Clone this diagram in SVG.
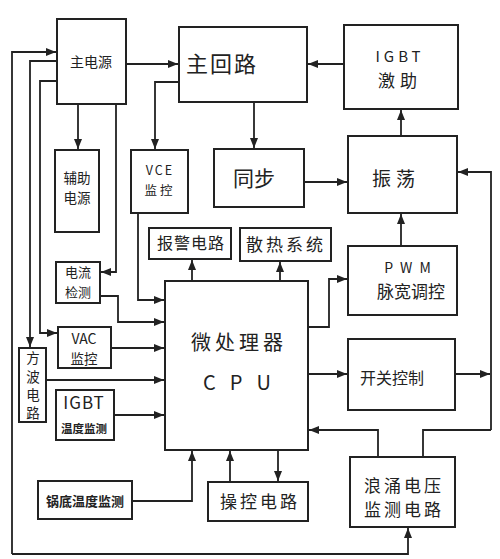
<svg xmlns="http://www.w3.org/2000/svg" width="500" height="559" viewBox="0 0 500 559">
<style>
.b{fill:#fff;stroke:#222;stroke-width:2}
.c{fill:none;stroke:#222;stroke-width:1.8}
text{font-family:"Noto Sans CJK SC","Liberation Sans",sans-serif;fill:#222;text-anchor:middle}
</style>
<defs>
<marker id="a" viewBox="0 0 10 10" refX="10" refY="5" markerWidth="10" markerHeight="10" markerUnits="userSpaceOnUse" orient="auto"><path d="M0,1 L10,5 L0,9 z" fill="#222"/></marker>
</defs>
<rect width="500" height="559" fill="#fff"/>
<g id="connectors">
<path class="c" d="M12,554 V52 H56" marker-end="url(#a)"/>
<path class="c" d="M12,554 H408 V528" marker-end="url(#a)"/>
<path class="c" d="M57,61 H30 V347" marker-end="url(#a)"/>
<path class="c" d="M57,81 H40 V333 H57" marker-end="url(#a)"/>
<path class="c" d="M78,104 V149" marker-end="url(#a)"/>
<path class="c" d="M116,104 V272 H101" marker-end="url(#a)"/>
<path class="c" d="M126,64 H178" marker-end="url(#a)"/>
<path class="c" d="M179,82 H155 V149" marker-end="url(#a)"/>
<path class="c" d="M254,102 V148" marker-end="url(#a)"/>
<path class="c" d="M344,64 H308" marker-end="url(#a)"/>
<path class="c" d="M304,182 H347" marker-end="url(#a)"/>
<path class="c" d="M401,136 V110" marker-end="url(#a)"/>
<path class="c" d="M401,246 V214" marker-end="url(#a)"/>
<path class="c" d="M491,430 V172 H458" marker-end="url(#a)"/>
<path class="c" d="M423,457 V430 H491"/>
<path class="c" d="M455,374 H490" marker-end="url(#a)"/>
<path class="c" d="M378,457 V430 H309" marker-end="url(#a)"/>
<path class="c" d="M309,327 H329 V279 H347" marker-end="url(#a)"/>
<path class="c" d="M309,374 H347" marker-end="url(#a)"/>
<path class="c" d="M192,281 V260" marker-end="url(#a)"/>
<path class="c" d="M280,281 V262" marker-end="url(#a)"/>
<path class="c" d="M138,213 V300 H164" marker-end="url(#a)"/>
<path class="c" d="M100,296 H118 V322 H164" marker-end="url(#a)"/>
<path class="c" d="M111,348 H164" marker-end="url(#a)"/>
<path class="c" d="M46,380 H164" marker-end="url(#a)"/>
<path class="c" d="M114,415 H164" marker-end="url(#a)"/>
<path class="c" d="M278,450 V481" marker-end="url(#a)"/>
<path class="c" d="M230,482 V451" marker-end="url(#a)"/>
<path class="c" d="M132,501 H192 V451" marker-end="url(#a)"/>
</g>
<g id="main-power"><rect class="b" x="57" y="19" width="69" height="85"/><text x="91" y="67" font-size="14">主电源</text></g>
<g id="main-loop"><rect class="b" x="179" y="27" width="128" height="75"/><text x="222" y="72" font-size="22" letter-spacing="2">主回路</text></g>
<g id="igbt-drive"><rect class="b" x="344" y="25" width="114" height="84"/><text x="400" y="62" font-size="15" letter-spacing="4" font-family="Liberation Sans">IGBT</text><text x="400" y="87" font-size="17" letter-spacing="5">激助</text></g>
<g id="aux-power"><rect class="b" x="55" y="150" width="44" height="82"/><text x="77" y="183" font-size="13.5">辅助</text><text x="77" y="203" font-size="13.5">电源</text></g>
<g id="vce"><rect class="b" x="131" y="150" width="57" height="63"/><text x="160" y="175" font-size="12.5" letter-spacing="2" font-family="Liberation Sans">VCE</text><text x="160" y="195" font-size="12.5" letter-spacing="3">监控</text></g>
<g id="sync"><rect class="b" x="214" y="149" width="90" height="58"/><text x="254" y="186" font-size="21">同步</text></g>
<g id="osc"><rect class="b" x="348" y="136" width="109" height="77"/><text x="396" y="186" font-size="19" letter-spacing="5">振荡</text></g>
<g id="alarm"><rect class="b" x="149" y="228" width="82" height="31"/><text x="191" y="249" font-size="16" letter-spacing="1">报警电路</text></g>
<g id="cooling"><rect class="b" x="240" y="228" width="91" height="33"/><text x="286" y="251" font-size="17" letter-spacing="3">散热系统</text></g>
<g id="pwm"><rect class="b" x="348" y="246" width="109" height="69"/><text x="411" y="273" font-size="14" letter-spacing="7" font-family="Liberation Sans">PWM</text><text x="411" y="298" font-size="17">脉宽调控</text></g>
<g id="current"><rect class="b" x="56" y="262" width="44" height="41"/><text x="78" y="277" font-size="13">电流</text><text x="78" y="297" font-size="13">检测</text></g>
<g id="vac"><rect class="b" x="58" y="327" width="53" height="41"/><text x="84" y="344" font-size="14" font-family="Liberation Sans">VAC</text><text x="84" y="364" font-size="13.5">监控</text></g>
<g id="square"><rect class="b" x="19" y="348" width="27" height="74"/><text x="33" y="363" font-size="13.5">方</text><text x="33" y="382" font-size="13.5">波</text><text x="33" y="400" font-size="13.5">电</text><text x="33" y="418" font-size="13.5">路</text></g>
<g id="cpu"><rect class="b" x="165" y="281" width="143" height="169"/><text x="239" y="350" font-size="20" letter-spacing="4">微处理器</text><text x="244" y="390" font-size="20" letter-spacing="14" font-family="Liberation Sans">CPU</text></g>
<g id="switch"><rect class="b" x="348" y="339" width="107" height="71"/><text x="392" y="384" font-size="16">开关控制</text></g>
<g id="igbt-temp"><rect class="b" x="56" y="390" width="58" height="50"/><text x="84" y="409" font-size="17" letter-spacing="1" font-family="Liberation Sans">IGBT</text><text x="84" y="433" font-size="11.5" font-weight="bold">温度监测</text></g>
<g id="surge"><rect class="b" x="350" y="457" width="105" height="70"/><text x="404" y="492" font-size="17" letter-spacing="3">浪涌电压</text><text x="404" y="516" font-size="17" letter-spacing="3">监测电路</text></g>
<g id="pot-temp"><rect class="b" x="38" y="481" width="94" height="38"/><text x="85" y="506" font-size="13" font-weight="bold">锅底温度监测</text></g>
<g id="control"><rect class="b" x="208" y="482" width="100" height="39"/><text x="260" y="508" font-size="17" letter-spacing="3">操控电路</text></g>
</svg>
